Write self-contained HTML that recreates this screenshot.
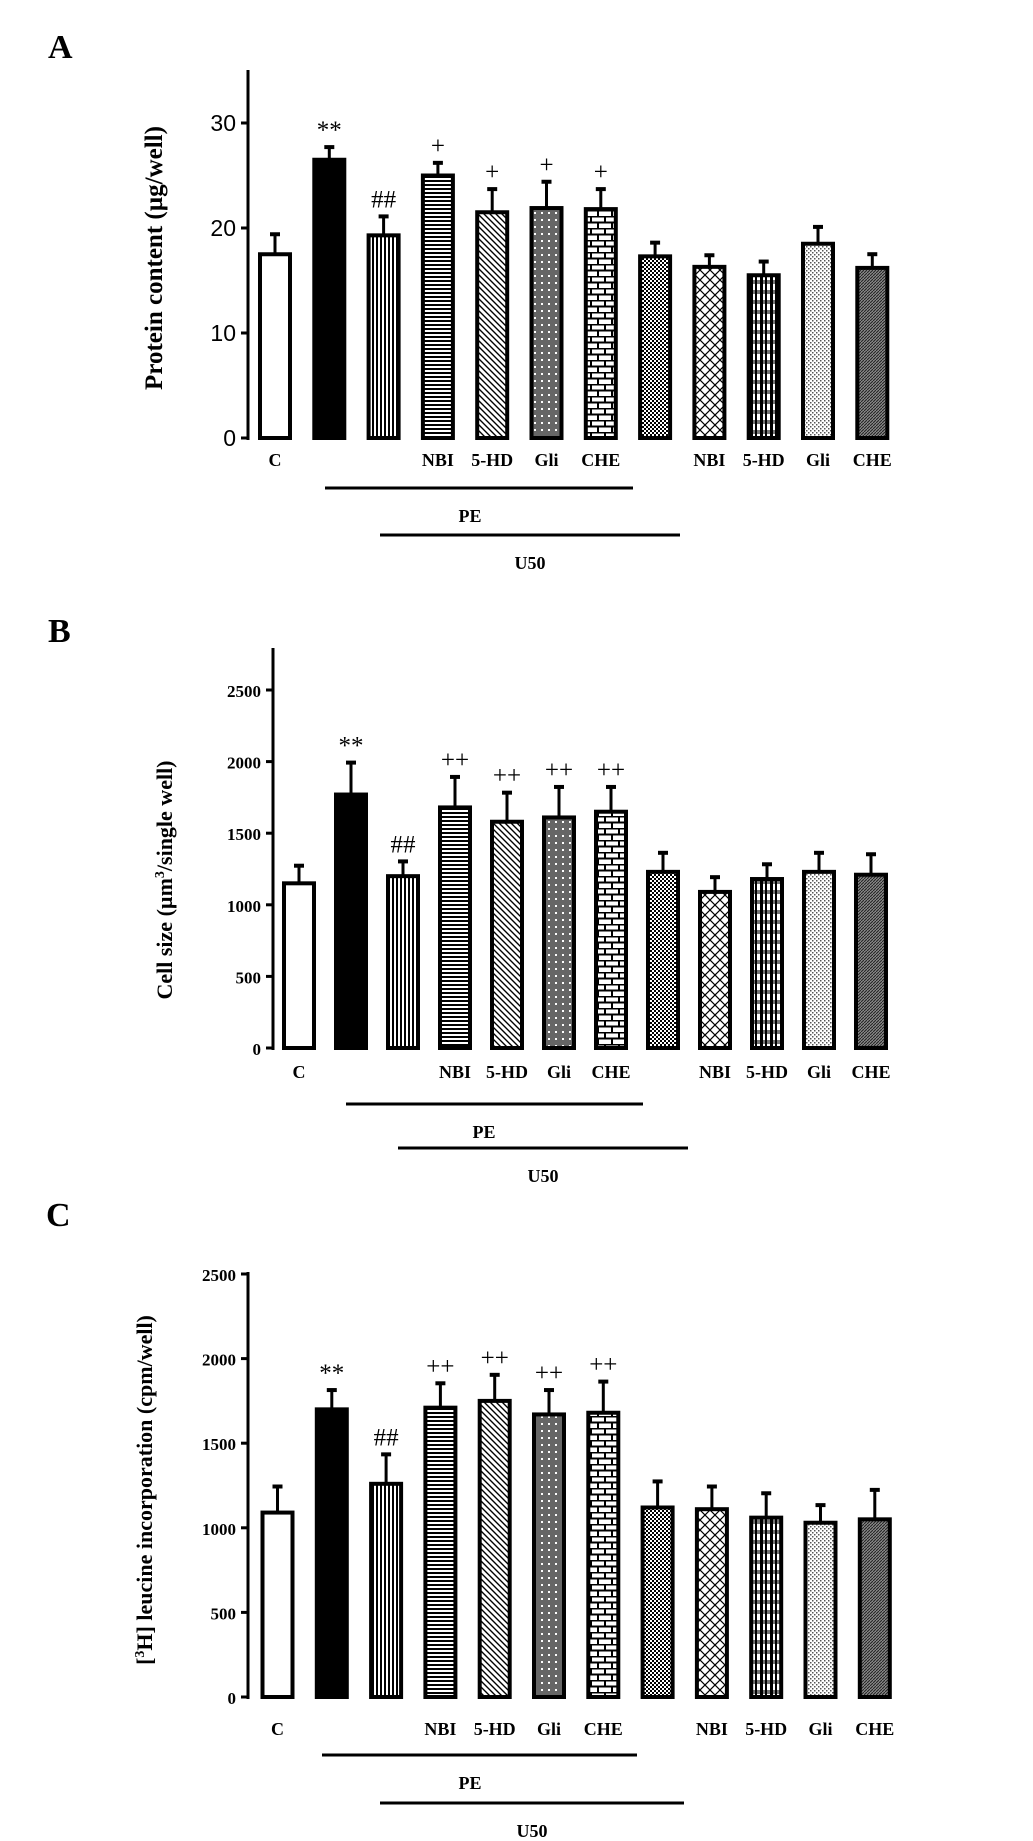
<!DOCTYPE html>
<html><head><meta charset="utf-8">
<style>
html,body{margin:0;padding:0;background:#fff;}
svg{display:block;}
text{font-family:"Liberation Serif",serif;font-weight:bold;fill:#000;}
</style></head>
<body>
<svg id="fig" width="1033" height="1841" viewBox="0 0 1033 1841" xmlns="http://www.w3.org/2000/svg">
<defs>
 <pattern id="pVert" width="4" height="4" patternUnits="userSpaceOnUse"><rect width="4" height="4" fill="#fff"/><rect width="2" height="4" fill="#000"/></pattern>
 <pattern id="pHorz" width="4" height="4" patternUnits="userSpaceOnUse"><rect width="4" height="4" fill="#fff"/><rect width="4" height="2" fill="#000"/></pattern>
 <pattern id="pDiag" width="6" height="6" patternUnits="userSpaceOnUse"><rect width="6" height="6" fill="#fff"/><path d="M-1,-1 L7,7 M-1,5 L1,7 M5,-1 L7,1" stroke="#000" stroke-width="1.4"/></pattern>
 <pattern id="pDots" width="7" height="7" patternUnits="userSpaceOnUse"><rect width="7" height="7" fill="#666"/><rect x="2" y="2" width="2" height="2" fill="#fff"/></pattern>
 <pattern id="pBrick" width="14" height="12" patternUnits="userSpaceOnUse"><rect width="14" height="12" fill="#fff"/><path d="M0,0.5 H14 M0,6.5 H14 M3,0 V6 M10,6 V12" stroke="#000" stroke-width="2"/></pattern>
 <pattern id="pCheck" width="4" height="4" patternUnits="userSpaceOnUse"><rect width="4" height="4" fill="#fff"/><rect width="2" height="2" fill="#000"/><rect x="2" y="2" width="2" height="2" fill="#000"/></pattern>
 <pattern id="pCross" width="10" height="10" patternUnits="userSpaceOnUse"><rect width="10" height="10" fill="#fff"/><path d="M0,0 L10,10 M10,0 L0,10" stroke="#000" stroke-width="1.2"/></pattern>
 <pattern id="pPlaid" width="10" height="10" patternUnits="userSpaceOnUse"><rect width="10" height="10" fill="#fff"/><rect width="10" height="4" fill="#777"/><rect width="3" height="10" fill="#000"/><rect x="5" width="2" height="10" fill="#000"/></pattern>
 <pattern id="pLight" width="4" height="4" patternUnits="userSpaceOnUse"><rect width="4" height="4" fill="#fff"/><rect width="1.5" height="1.5" fill="#555"/><rect x="2" y="2" width="1.5" height="1.5" fill="#555"/></pattern>
 <pattern id="pDark" width="3" height="3" patternUnits="userSpaceOnUse"><rect width="3" height="3" fill="#888"/><path d="M0,3 L3,0" stroke="#222" stroke-width="1"/></pattern>
</defs>
</svg>
<script>
// ---- shared data ----
const groupLabels = ["C","","","NBI","5-HD","Gli","CHE","","NBI","5-HD","Gli","CHE"];
const barFills = ["#fff","#000","url(#pVert)","url(#pHorz)","url(#pDiag)","url(#pDots)","url(#pBrick)","url(#pCheck)","url(#pCross)","url(#pPlaid)","url(#pLight)","url(#pDark)"];

// Panel A
const aMeans = [17.5,26.5,19.3,25.0,21.5,21.9,21.8,17.3,16.3,15.5,18.5,16.2];
const aErr   = [2.0,1.3,1.9,1.3,2.3,2.6,2.0,1.4,1.2,1.4,1.7,1.4];
const aMarks = ["","**","##","+","+","+","+","","","","",""];
const aTicks = [0,10,20,30];
// Panel B
const bMeans = [1150,1770,1200,1680,1580,1610,1650,1230,1090,1180,1230,1210];
const bErr   = [130,230,110,220,210,220,180,140,110,110,140,150];
const bMarks = ["","**","##","++","++","++","++","","","","",""];
const bTicks = [0,500,1000,1500,2000,2500];
// Panel C
const cMeans = [1090,1700,1260,1710,1750,1670,1680,1120,1110,1060,1030,1050];
const cErr   = [160,120,180,150,160,150,190,160,140,150,110,180];
const cMarks = ["","**","##","++","++","++","++","","","","",""];
const cTicks = [0,500,1000,1500,2000,2500];

const NS = "http://www.w3.org/2000/svg";
const svg = document.getElementById("fig");
function mk(tag, attrs, parent){
  const e = document.createElementNS(NS, tag);
  for (const k in attrs) e.setAttribute(k, attrs[k]);
  (parent||svg).appendChild(e);
  return e;
}

function panel(cfg){
  const g = mk("g", {});
  
  
  const yS = v => cfg.y0 - (v - 0) / cfg.max * (cfg.y0 - cfg.yTop);
  const xS = i => cfg.x0 + i * cfg.step;
  const L = mk("text", {x: cfg.letterX, y: cfg.letterY, "font-size": 34}, g);
  L.textContent = cfg.letter;
  
  
  const ax = mk("line", {x1: cfg.axisX, x2: cfg.axisX, y1: cfg.axisTop, y2: cfg.y0 + 2, stroke: "#000", "stroke-width": 3}, g);
  
  
  cfg.ticks.forEach(t => {
    const ty = yS(t);
    const tk = mk("line", {x1: cfg.axisX - 7, x2: cfg.axisX, y1: ty, y2: ty, stroke: "#000", "stroke-width": 3}, g);
    
    
    const attrs = {x: cfg.axisX - 12, y: ty + 7, "text-anchor": "end", "font-size": cfg.tickFont};
    if (cfg.tickSans) { attrs.style = "font-family:'Liberation Sans',sans-serif;font-weight:normal"; attrs.y = ty + 8; }
    const tl = mk("text", attrs, g);
    tl.textContent = t;
    
    
  });
  const tt = mk("text", {x: 0, y: 0, "text-anchor": "middle", "font-size": cfg.titleFont, transform: `translate(${cfg.titleX},${cfg.titleY}) rotate(-90)`}, g);
  tt.innerHTML = cfg.title;
  
  
  cfg.means.forEach((m, i) => {
    const cx = xS(i), w = cfg.barW;
    const top = yS(m), et = yS(m + cfg.err[i]);
    const eb = mk("line", {x1: cx, x2: cx, y1: et, y2: top, stroke: "#000", "stroke-width": 3}, g);
    
    
    const cap = mk("line", {x1: cx - 5, x2: cx + 5, y1: et + 1, y2: et + 1, stroke: "#000", "stroke-width": 4}, g);
    
    
    const r = mk("rect", {x: cx - w/2, y: top, width: w, height: cfg.y0 - top, fill: barFills[i], stroke: "#000", "stroke-width": 4}, g);
    
    
    if (cfg.marks[i]) {
      const mt = mk("text", {x: cx, y: et - 8, "text-anchor": "middle", "font-size": 25, style: "font-weight:normal"}, g);
      mt.textContent = cfg.marks[i];
      
      
    }
    if (groupLabels[i]) {
      const xl = mk("text", {x: cx, y: cfg.labelY, "text-anchor": "middle", "font-size": 18}, g);
      xl.textContent = groupLabels[i];
      
      
    }
  });
  const pl = mk("line", {x1: cfg.peX1, x2: cfg.peX2, y1: cfg.peLineY, y2: cfg.peLineY, stroke: "#000", "stroke-width": 3}, g);
  
  
  const pt = mk("text", {x: cfg.peTX, y: cfg.peLineY + 34, "text-anchor": "middle", "font-size": 18}, g);
  pt.textContent = "PE";
  
  
  const ul = mk("line", {x1: cfg.uX1, x2: cfg.uX2, y1: cfg.uLineY, y2: cfg.uLineY, stroke: "#000", "stroke-width": 3}, g);
  
  
  const ut = mk("text", {x: cfg.uTX, y: cfg.uLineY + 34, "text-anchor": "middle", "font-size": 18}, g);
  ut.textContent = "U50";
  
  
}

panel({name:"panel-a", letter:"A", letterX:48, letterY:58, axisX:248, axisTop:70, y0:438, yTop:123, max:30,
  ticks:aTicks, tickFont:23, tickSans:true, means:aMeans, err:aErr, marks:aMarks, x0:275, step:54.3, barW:30,
  title:"Protein  content (µg/well)", titleFont:25, titleX:162, titleY:258, labelY:466,
  peX1:325, peX2:633, peLineY:488, peTX:470, uX1:380, uX2:680, uLineY:535, uTX:530});

panel({name:"panel-b", letter:"B", letterX:48, letterY:642, axisX:273, axisTop:648, y0:1048, yTop:690, max:2500,
  ticks:bTicks, tickFont:17, means:bMeans, err:bErr, marks:bMarks, x0:299, step:52, barW:30,
  title:"Cell  size (µm<tspan dy='-8' font-size='14'>3</tspan><tspan dy='8'>/single well)</tspan>", titleFont:22, titleX:172, titleY:880, labelY:1078,
  peX1:346, peX2:643, peLineY:1104, peTX:484, uX1:398, uX2:688, uLineY:1148, uTX:543});

panel({name:"panel-c", letter:"C", letterX:46, letterY:1226, axisX:248, axisTop:1272, y0:1697, yTop:1274, max:2500,
  ticks:cTicks, tickFont:17, means:cMeans, err:cErr, marks:cMarks, x0:277.5, step:54.3, barW:30,
  title:"[<tspan dy='-8' font-size='14'>3</tspan><tspan dy='8'>H] leucine incorporation (cpm/well)</tspan>", titleFont:22, titleX:152, titleY:1490, labelY:1735,
  peX1:322, peX2:637, peLineY:1755, peTX:470, uX1:380, uX2:684, uLineY:1803, uTX:532});
</script>
</body></html>
